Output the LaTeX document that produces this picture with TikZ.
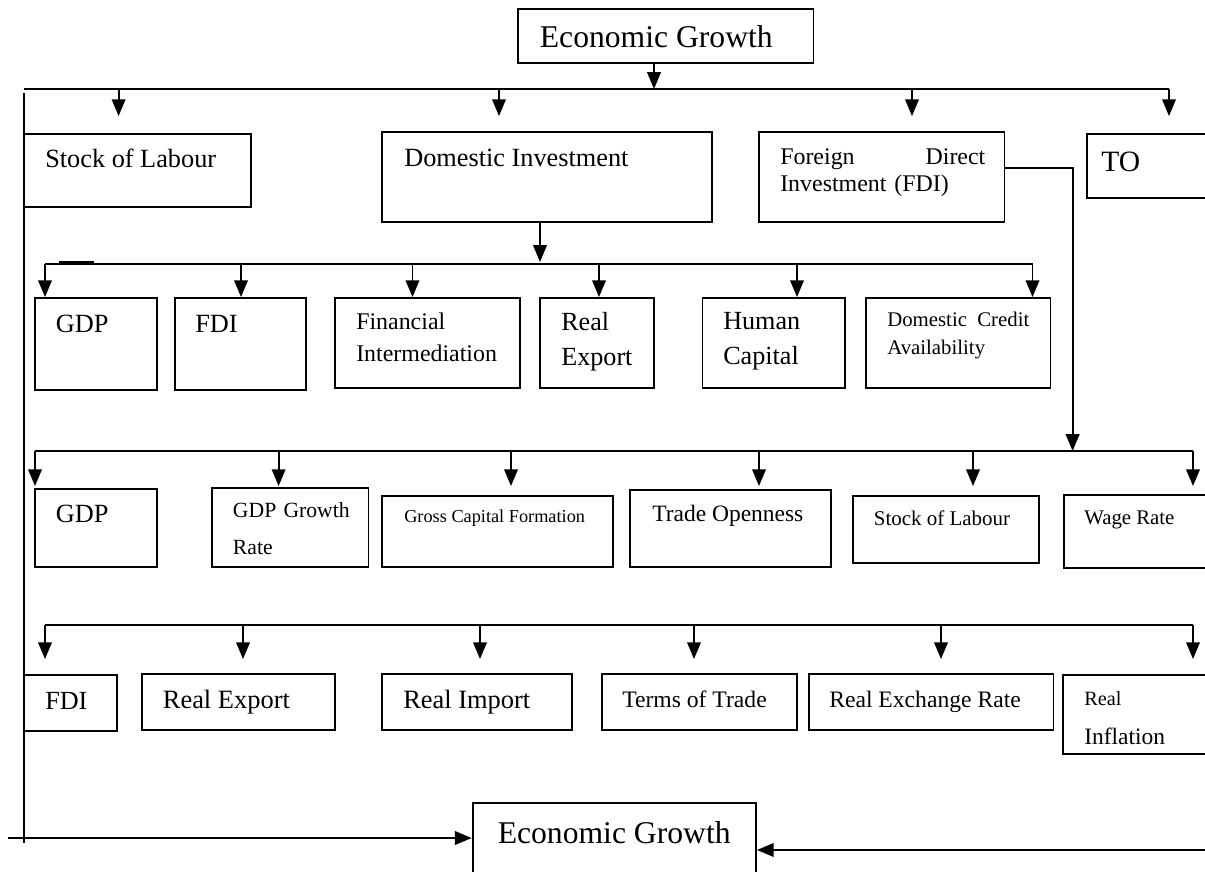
\documentclass[tikz,border=0pt]{standalone}
\usepackage{fontspec}
\setmainfont{Liberation Serif}
\usetikzlibrary{arrows.meta,fit}

\tikzset{
  box/.style={draw, line width=1.3pt, inner sep=0pt},
  tag/.style={anchor=base west, inner sep=0pt},
  fs/.style 2 args={font=\fontsize{#1}{#2}\selectfont},
  bus/.style={line width=1.3pt},
  link/.style={line width=1.3pt, -{Triangle[length=0.42cm,width=0.34cm]}}
}

\begin{document}
\begin{tikzpicture}[x=0.025cm,y=-0.025cm]
  \useasboundingbox (0,0) rectangle (1205,872);

  % Boxes
  \foreach \n/\xa/\ya/\xb/\yb in {
            egt/518/9.3/813.5/62.7,
            sol/23.7/134/251/207,     dinv/382/132/712/222,
            fdi/759/132/1004.5/222,   to/1087/134/1215/198,
            gdpb/35/298/157/390,      fdib/175/298/306/390,
            finint/335/298/520/388,   rexpb/540/298/654/388,
            humcap/702.5/298/845/388, dca/866/298/1050.5/388,
            gdpc/35/489/157/567,      gdpgr/211.6/488/368.5/567,
            gcf/382/496/612.6/567,    trop/630/490/831/567,
            solc/853/496/1039/563,    wage/1064/495/1215/568,
            fdic/23.7/675/116.7/730.7, rexpc/142/674/335/730,
            rimp/382/674/572/730,     tot/602/674/797/730,
            rer/808.6/674/1053.5/730, rinf/1063/675/1215/754,
            egb/472.6/803/756/885
           }
  {
    \node[box, fit={(\xa,\ya) (\xb,\yb)}] (\n) {};
  }

  % Texts
  \node[tag, fs={22.5}{27}] (egt-t) at (539.6,48) {Economic Growth};
  \node[tag, fs={18.7}{22}] (sol-t) at (45,168) {Stock of Labour};
  \node[tag, fs={18.7}{22}] (dinv-t) at (404,167) {Domestic Investment};
  \node[tag, fs={17}{19.1}, text width=5.125cm] (fdi-t) at (780,165)
    {\hbox to\linewidth{Foreign\hfill Direct}\\Investment (FDI)};
  \node[tag, fs={21}{25}] (to-t) at (1101,172) {TO};

  \node[tag, fs={18.7}{22}] (gdpb-t) at (55.5,333) {GDP};
  \node[tag, fs={18.7}{22}] (fdib-t) at (195,333) {FDI};
  \node[tag, fs={17}{22.5}, text width=4cm] (finint-t) at (356,330) {Financial\\Intermediation};
  \node[tag, fs={18.6}{24.8}, text width=2.5cm] (rexpb-t) at (561,331) {Real\\Export};
  \node[tag, fs={18.6}{24.8}, text width=3cm] (humcap-t) at (723,330) {Human\\Capital};
  \node[tag, fs={14.8}{19.9}, text width=3.55cm] (dca-t) at (887,327)
    {\hbox to\linewidth{Domestic\hfill Credit}\\Availability};

  \node[tag, fs={18.7}{22}] (gdpc-t) at (55.5,523) {GDP};
  \node[tag, fs={15.4}{26.3}, text width=3.5cm] (gdpgr-t) at (232.7,518) {GDP Growth\\Rate};
  \node[tag, fs={13}{16}] (gcf-t) at (404,523) {Gross Capital Formation};
  \node[tag, fs={16.7}{20}] (trop-t) at (652,522) {Trade Openness};
  \node[tag, fs={14.9}{18}] (solc-t) at (873.6,526) {Stock of Labour};
  \node[tag, fs={14.8}{18}] (wage-t) at (1084,525) {Wage Rate};

  \node[tag, fs={18.6}{22}] (fdic-t) at (45,709) {FDI};
  \node[tag, fs={18.8}{22}] (rexpc-t) at (162.6,708) {Real Export};
  \node[tag, fs={18.8}{22}] (rimp-t) at (403,708) {Real Import};
  \node[tag, fs={16.8}{20}] (tot-t) at (622,707) {Terms of Trade};
  \node[tag, fs={16.8}{20}] (rer-t) at (829,707) {Real Exchange Rate};
  \node[tag, fs={16.7}{28.4}, text width=3cm] (rinf-t) at (1084,705)
    {{\fontsize{14.4}{28.4}\selectfont Real}\\Inflation};

  \node[tag, fs={22.5}{27}] (egb-t) at (497.5,843) {Economic Growth};

  % top fan-out
  \draw[link] (654,0 |- egt.south) -- (654,89);
  \draw[bus] (23.7,89) -- (1169,89);
  \foreach \x/\n/\s in {118.6/sol/0.425cm, 499/dinv/0.375cm, 912/fdi/0.375cm, 1169/to/0.425cm}
  {
    \draw[link, shorten >=\s] (\x,89) -- (\x,0 |- \n.north);
  }

  % domestic investment
  \draw[link] (540,0 |- dinv.south) -- (540,262);
  \draw[bus] (45,264) -- (1032.5,264);
  \draw[line width=1.6pt] (59,262) -- (94,262);
  \foreach \x/\n in {45/gdpb, 241/fdib, 412.5/finint, 599/rexpb, 797/humcap, 1032.5/dca}
  {
    \draw[link] (\x,264) -- (\x,0 |- \n.north);
  }

  % foreign direct investment
  \draw[link] ([yshift=6.4pt]fdi.east) -| (1072.6,451);
  \draw[bus] (35,451) -- (1193,451);
  \foreach \x/\n/\s in {35/gdpc/0.05cm, 278.6/gdpgr/0.025cm, 511/gcf/0.225cm,
                        759/trop/0.075cm, 973/solc/0.225cm, 1193/wage/0.2cm}
  {
    \draw[link, shorten >=\s] (\x,451) -- (\x,0 |- \n.north);
  }

  % trade openness
  \draw[bus] (45,625) -- (1193,625);
  \foreach \x/\n/\s in {45/fdic/0.375cm, 243/rexpc/0.35cm, 480/rimp/0.35cm,
                        694/tot/0.35cm, 941/rer/0.35cm, 1193/rinf/0.375cm}
  {
    \draw[link, shorten >=\s] (\x,625) -- (\x,0 |- \n.north);
  }

  % back to growth
  \draw[bus] (23.7,93) -- (23.7,843);
  \draw[link] (7.7,838) -- (7.7,838 -| egb.west);
  \draw[link] (1215,850) -- (1215,850 -| egb.east);
\end{tikzpicture}
\end{document}
